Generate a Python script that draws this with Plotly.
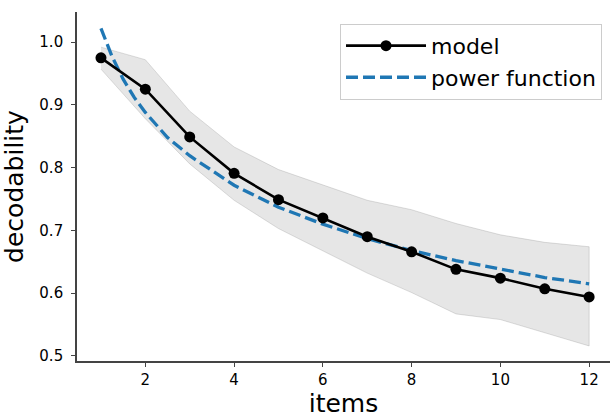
import plotly.graph_objects as go

items = [1, 2, 3, 4, 5, 6, 7, 8, 9, 10, 11, 12]
model = [0.975, 0.925, 0.849, 0.791, 0.749, 0.720, 0.690, 0.666, 0.638, 0.624, 0.607, 0.594]
band_upper = [0.992, 0.972, 0.890, 0.833, 0.797, 0.773, 0.748, 0.733, 0.711, 0.693, 0.681, 0.674]
band_lower = [0.957, 0.878, 0.806, 0.748, 0.703, 0.668, 0.632, 0.601, 0.567, 0.558, 0.537, 0.516]

power_x = [1, 1.25, 1.5, 1.75, 2, 2.5, 3, 4, 5, 6, 7, 8, 9, 10, 11, 12]
power_y = [1.022, 0.977, 0.941, 0.912, 0.888, 0.848, 0.819, 0.772, 0.737, 0.710, 0.687,
           0.668, 0.652, 0.638, 0.625, 0.615]

FONT = "DejaVu Sans"

fig = go.Figure()

fig.add_trace(go.Scatter(
    x=items + items[::-1], y=band_upper + band_lower[::-1],
    fill="toself", fillcolor="rgba(128,128,128,0.2)",
    line=dict(color="rgba(128,128,128,0.25)", width=1),
    mode="lines", showlegend=False, hoverinfo="skip"))

fig.add_trace(go.Scatter(
    x=power_x, y=power_y, mode="lines", name="power function",
    line=dict(color="#1f77b4", width=3.3, dash="12px,5px"), legendrank=2))

fig.add_trace(go.Scatter(
    x=items, y=model, mode="lines+markers", name="model",
    line=dict(color="black", width=2.6),
    marker=dict(color="black", size=11), legendrank=1))

fig.update_layout(
    width=610, height=418,
    margin=dict(l=77, r=0, t=12, b=57),
    paper_bgcolor="white", plot_bgcolor="white",
    font=dict(family=FONT, color="black", size=15),
    showlegend=True,
    legend=dict(
        x=0.985, y=0.966, xanchor="right", yanchor="top",
        bgcolor="rgba(255,255,255,0.8)", bordercolor="#cccccc", borderwidth=1,
        font=dict(family=FONT, size=22, color="black"),
        tracegroupgap=0, itemwidth=80),
    xaxis=dict(
        range=[0.46, 12.47], tickvals=[2, 4, 6, 8, 10, 12],
        showline=True, linecolor="#444444", linewidth=1.6, mirror=False,
        ticks="outside", ticklen=4, tickwidth=1.2, tickcolor="#444444",
        showgrid=False, zeroline=False,
        tickfont=dict(size=15, family=FONT, color="black"),
        title=dict(text="items", font=dict(size=25, family=FONT, color="black"), standoff=6)),
    yaxis=dict(
        range=[0.492, 1.048], tickvals=[0.5, 0.6, 0.7, 0.8, 0.9, 1.0], tickformat=".1f",
        showline=True, linecolor="#444444", linewidth=1.6, mirror=False,
        ticks="outside", ticklen=4, tickwidth=1.2, tickcolor="#444444",
        showgrid=False, zeroline=False, ticklabelstandoff=5,
        tickfont=dict(size=15, family=FONT, color="black"),
        title=dict(text="decodability", font=dict(size=25, family=FONT, color="black"), standoff=10)),
)

fig.write_html("out.html")
